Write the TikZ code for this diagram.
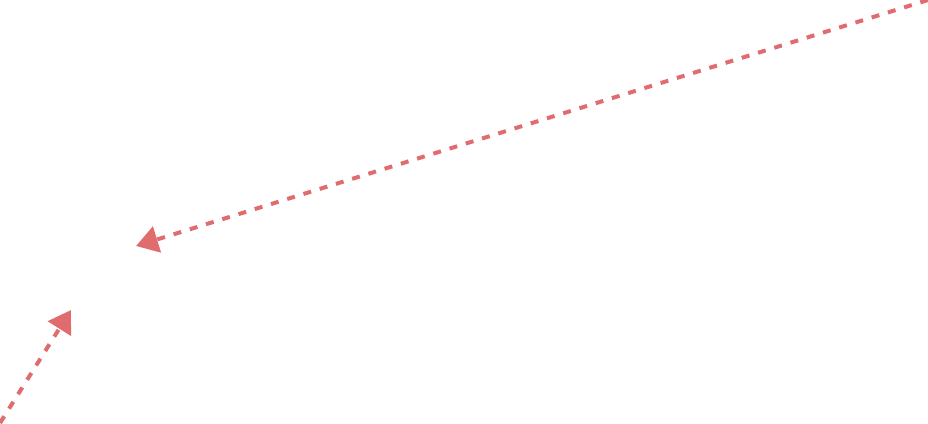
\documentclass[tikz,border=0pt]{standalone}
\usetikzlibrary{arrows.meta}
\definecolor{linkred}{RGB}{224,108,110}
\begin{document}
\begin{tikzpicture}[x=0.75pt,y=-0.75pt]

      \tikzset{dashlink/.style={draw=linkred, line width=3pt, dash pattern=on 6pt off 6.75pt,
          -{Triangle[length=16.5pt,width=20pt,fill=linkred]}}}
      \useasboundingbox (0,0) rectangle (928,424);
%% Ends
      	\coordinate (s1) at (928,0);
      	\coordinate (t1) at (136,246);
      	\coordinate (s2) at (0,423);
      	\coordinate (t2) at (71,310);
%Links
		\draw[dashlink] (s1) -- (t1);
		\draw[dashlink] (s2) -- (t2);

	\end{tikzpicture}
\end{document}
